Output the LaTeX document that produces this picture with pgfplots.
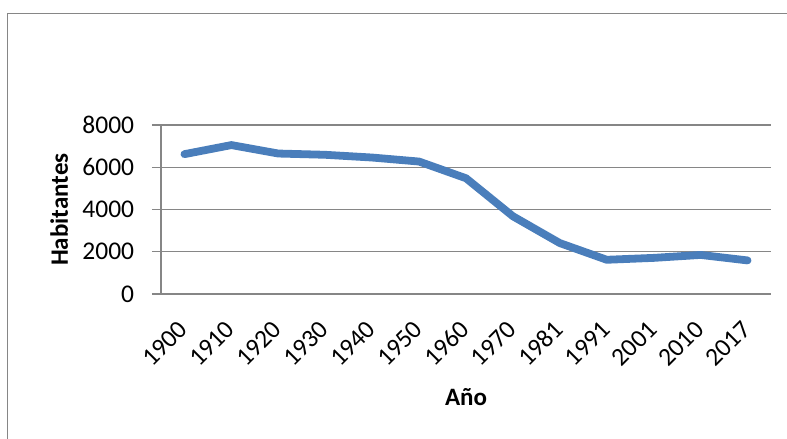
\documentclass[border=0pt]{standalone}
\usepackage{pgfplots}
\pgfplotsset{compat=1.18}
\usepackage{fontspec}
\setmainfont{Carlito}
\definecolor{lineblue}{HTML}{4A7EBB}
\definecolor{gridgray}{HTML}{868686}
\begin{document}
\begin{tikzpicture}
\useasboundingbox (0,0) rectangle (787bp,-439bp);
\draw[gridgray, line width=1.2bp] (7.5bp,-445bp) -- (7.5bp,-13.7bp) -- (795bp,-13.7bp);
\begin{axis}[
  at={(161bp,-294bp)}, anchor=south west,
  scale only axis, width=610bp, height=169bp,
  xmin=-0.5, xmax=12.5, ymin=0, ymax=8000,
  xtick={0,1,2,3,4,5,6,7,8,9,10,11,12},
  xticklabels={1900,1910,1920,1930,1940,1950,1960,1970,1981,1991,2001,2010,2017},
  ytick={0,2000,4000,6000,8000},
  yticklabels={0,2000,4000,6000,8000},
  axis lines*=left,
  axis line style={-, gridgray, line width=1.2bp},
  ymajorgrids,
  grid style={gridgray, line width=1.2bp},
  tick align=outside,
  major tick length=9bp,
  ytick style={gridgray, line width=1.2bp},
  xtick style={draw=none},
  tick label style={font=\fontsize{25.5bp}{30bp}\selectfont},
  yticklabel style={anchor=east, inner sep=0pt, xshift=-17.7bp},
  xticklabel style={anchor=east, rotate=45, inner sep=0pt, xshift=-1.5bp},
  xticklabel shift=21bp,
  xlabel={\textbf{Año}},
  ylabel={\textbf{Habitantes}},
  label style={font=\fontsize{25bp}{30bp}\selectfont},
  xlabel style={at={(axis description cs:0.5,-0.661)}, anchor=base},
  ylabel style={at={(axis description cs:-0.167,0.5)}, anchor=center, rotate=0},
  clip=false,
]
\addplot[lineblue, line width=7.8bp, line join=round, line cap=round] coordinates {
  (0,6620) (1,7050) (2,6650) (3,6590) (4,6460) (5,6270) (6,5480)
  (7,3680) (8,2410) (9,1620) (10,1710) (11,1850) (12,1590)
};
\end{axis}
\end{tikzpicture}
\end{document}
